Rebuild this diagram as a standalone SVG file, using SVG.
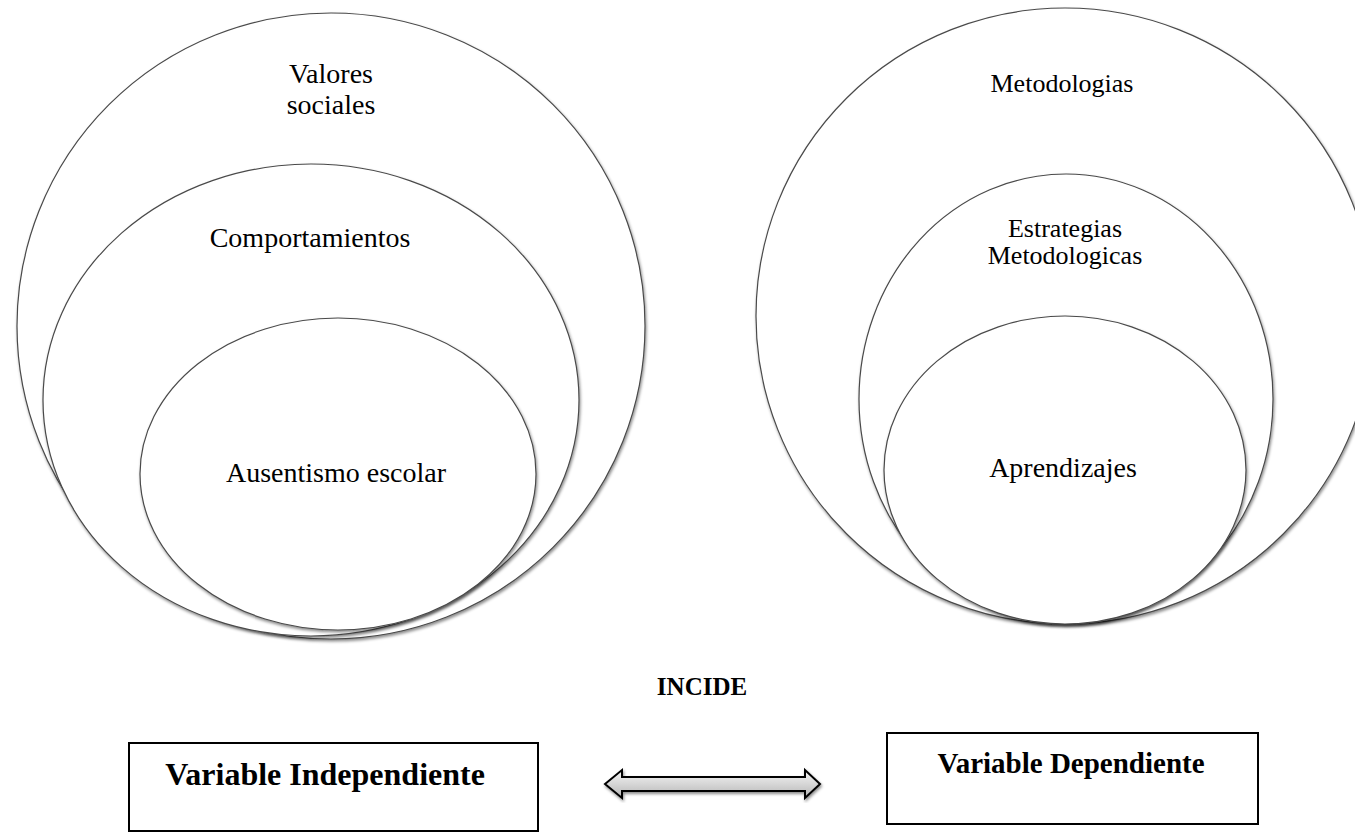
<svg xmlns="http://www.w3.org/2000/svg" width="1355" height="832" viewBox="0 0 1355 832">
  <defs>
    <filter id="sh" x="-10%" y="-10%" width="120%" height="125%">
      <feDropShadow dx="1" dy="2" stdDeviation="1.5" flood-color="#000" flood-opacity="0.45"/>
    </filter>
    <linearGradient id="ag" x1="0" y1="0" x2="0" y2="1">
      <stop offset="0" stop-color="#f7f7f7"/>
      <stop offset="1" stop-color="#b5b5b5"/>
    </linearGradient>
  </defs>
  <style>
    .el{fill:#fff;stroke:#4a4a4a;stroke-width:1.2;filter:url(#sh)}
    .t{font-family:"Liberation Serif","Times New Roman",serif;fill:#000;text-anchor:middle}
    .b{font-family:"Liberation Serif","Times New Roman",serif;font-weight:bold;fill:#000;text-anchor:middle}
    .box{fill:#fff;stroke:#000;stroke-width:2}
  </style>
  <rect width="1355" height="832" fill="#fff"/>

  <g id="left-set">
    <g id="valores-sociales">
      <ellipse class="el" cx="331" cy="326" rx="314" ry="313"/>
      <text class="t" font-size="28" x="331" y="83">Valores</text>
      <text class="t" font-size="28" x="331" y="114">sociales</text>
    </g>
    <g id="comportamientos">
      <ellipse class="el" cx="311" cy="400" rx="268" ry="236"/>
      <text class="t" font-size="28" x="310" y="247">Comportamientos</text>
    </g>
    <g id="ausentismo-escolar">
      <ellipse class="el" cx="338" cy="474" rx="198" ry="156"/>
      <text class="t" font-size="28" x="336" y="482">Ausentismo escolar</text>
    </g>
  </g>

  <g id="right-set">
    <g id="metodologias">
      <ellipse class="el" cx="1065" cy="316" rx="309" ry="308"/>
      <text class="t" font-size="26" x="1062" y="92">Metodologias</text>
    </g>
    <g id="estrategias-metodologicas">
      <ellipse class="el" cx="1066" cy="399" rx="207" ry="225"/>
      <text class="t" font-size="26" x="1065" y="237">Estrategias</text>
      <text class="t" font-size="26" x="1065" y="264">Metodologicas</text>
    </g>
    <g id="aprendizajes">
      <ellipse class="el" cx="1065" cy="470" rx="181" ry="154"/>
      <text class="t" font-size="28" x="1063" y="477">Aprendizajes</text>
    </g>
  </g>

  <g id="incide-label">
    <text class="b" font-size="25" x="702" y="695">INCIDE</text>
  </g>

  <g id="variable-independiente">
    <rect class="box" x="129" y="743" width="409" height="88"/>
    <text class="b" font-size="32" x="325" y="785">Variable Independiente</text>
  </g>

  <g id="variable-dependiente">
    <rect class="box" x="887" y="733" width="371" height="91"/>
    <text class="b" font-size="29" x="1071" y="773">Variable Dependiente</text>
  </g>

  <g id="connectors">
    <path d="M605,784 L622,770 L622,777 L805,777 L805,770 L820,784 L805,798 L805,791 L622,791 L622,798 Z" fill="url(#ag)" stroke="#000" stroke-width="2" stroke-linejoin="miter" filter="url(#sh)"/>
  </g>
</svg>
